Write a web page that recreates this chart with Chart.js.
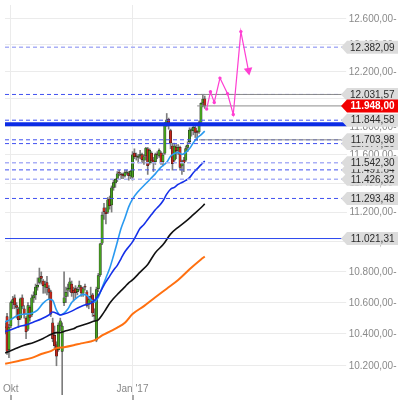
<!DOCTYPE html>
<html><head><meta charset="utf-8">
<script src="https://cdn.jsdelivr.net/npm/chart.js@4/dist/chart.umd.min.js"></script>
<style>html,body{margin:0;padding:0;background:#fff;overflow:hidden}canvas{display:block}</style>
</head><body>
<canvas id="c" width="398" height="400"></canvas>
<script>
// ---- trading days (x categories) ----
const dates = [
 '2016-09-28','2016-09-29','2016-09-30',
 '2016-10-03','2016-10-04','2016-10-05','2016-10-06','2016-10-07','2016-10-10','2016-10-11','2016-10-12','2016-10-13','2016-10-14',
 '2016-10-17','2016-10-18','2016-10-19','2016-10-20','2016-10-21','2016-10-24','2016-10-25','2016-10-26','2016-10-27','2016-10-28','2016-10-31',
 '2016-11-01','2016-11-02','2016-11-03','2016-11-04','2016-11-07','2016-11-08','2016-11-09','2016-11-10','2016-11-11','2016-11-14','2016-11-15',
 '2016-11-16','2016-11-17','2016-11-18','2016-11-21','2016-11-22','2016-11-23','2016-11-24','2016-11-25','2016-11-28','2016-11-29','2016-11-30',
 '2016-12-01','2016-12-02','2016-12-05','2016-12-06','2016-12-07','2016-12-08','2016-12-09','2016-12-12','2016-12-13','2016-12-14','2016-12-15',
 '2016-12-16','2016-12-19','2016-12-20','2016-12-21','2016-12-22','2016-12-23','2016-12-27','2016-12-28','2016-12-29','2016-12-30',
 '2017-01-02','2017-01-03','2017-01-04','2017-01-05','2017-01-06','2017-01-09','2017-01-10','2017-01-11','2017-01-12','2017-01-13',
 '2017-01-16','2017-01-17','2017-01-18','2017-01-19','2017-01-20','2017-01-23','2017-01-24','2017-01-25','2017-01-26','2017-01-27','2017-01-30','2017-01-31',
 '2017-02-01','2017-02-02','2017-02-03','2017-02-06','2017-02-07','2017-02-08','2017-02-09','2017-02-10','2017-02-13','2017-02-14','2017-02-15',
 '2017-02-16','2017-02-17','2017-02-20','2017-02-21','2017-02-22','2017-02-23'
];
const open = [10440,10510,10300,10450,10600,10630,10580,10560,10500,10630,10560,10500,10430,10570,10520,10630,10650,10700,10730,10770,10740,10700,10730,10690,
 10670,10470,10390,10330,10300,10450,10290,10600,10640,10680,10690,10720,10680,10690,10670,10700,10700,10660,10700,10670,10590,10630,
 10650,10520,10360,10690,10780,10990,11230,11200,11200,11290,11250,11370,11400,11430,11475,11460,11460,11450,11470,11470,11450,
 11440,11610,11590,11580,11590,11600,11560,11590,11640,11540,11610,11560,11550,11600,11590,11610,11550,11610,11820,11850,11770,11660,
 11560,11650,11630,11650,11520,11560,11560,11650,11690,11770,11770,11790,11760,11760,11830,11970,12000];
const high = [10470,10530,10460,10610,10640,10650,10600,10570,10630,10650,10580,10510,10600,10580,10650,10670,10720,10760,10825,10800,10750,10740,10770,10710,
 10680,10500,10450,10350,10470,10500,10470,10800,10700,10720,10760,10740,10700,10710,10700,10740,10710,10700,10720,10680,10640,10700,
 10660,10560,10700,10790,10990,11200,11260,11230,11300,11310,11380,11420,11430,11480,11490,11470,11470,11490,11490,11480,11490,
 11620,11640,11610,11600,11630,11610,11600,11650,11650,11640,11620,11580,11610,11620,11640,11620,11610,11830,11893,11860,11780,11680,
 11680,11670,11670,11660,11560,11580,11660,11690,11790,11790,11810,11800,11770,11840,11970,12031.57,12020];
// the 9 Nov 2016 low wick runs below the visible range
const low = [10400,10270,10250,10440,10560,10560,10500,10440,10490,10560,10500,10370,10420,10480,10510,10600,10620,10680,10720,10720,10660,10660,10650,10620,
 10510,10350,10310,10200,10290,10420,9800,10580,10600,10640,10670,10640,10610,10630,10650,10680,10640,10640,10680,10570,10560,10600,
 10510,10480,10350,10670,10770,10980,11150,11120,11190,11220,11200,11350,11370,11410,11450,11430,11430,11440,11460,11420,11430,
 11420,11570,11560,11540,11570,11540,11530,11560,11460,11530,11540,11480,11530,11570,11580,11530,11520,11600,11800,11780,11640,11490,
 11550,11570,11600,11490,11460,11480,11550,11620,11680,11730,11740,11720,11700,11750,11820,11940,11930];
const close = [10438,10290,10440,10600,10619,10585,10568,10490,10624,10577,10523,10414,10580,10504,10631,10645,10701,10711,10761,10757,10710,10717,10696,10665,
 10526,10370,10325,10259,10456,10482,10450,10630,10667,10693,10735,10664,10663,10664,10685,10714,10662,10689,10699,10582,10620,10640,
 10534,10513,10684,10775,10986,11180,11203,11190,11284,11244,11366,11404,11426,11464,11468,11456,11450,11472,11475,11451,11481,
 11598,11584,11584,11585,11599,11563,11583,11646,11521,11629,11555,11540,11599,11598,11630,11545,11595,11806,11848,11814,11681,11535,
 11659,11627,11651,11509,11549,11543,11642,11666,11774,11771,11794,11757,11757,11828,11967,11998,11948];

// ---- axis ticks ----
const xTickDates = ['2016-10-03', '2017-01-02'];
const xTickLabels = ['Okt', "Jan '17"];
const yTickValues = [10200,10400,10600,10800,11000,11200,11400,11600,11800,12000,12200,12400,12600];

// ---- moving averages (day position, value) ----
const maFastDays = [0,3,7,11,14,17,20,23,25,27,29,31,33,35,38,41,43,45,47,49,51,53,55,57,59,61,63,65,67,70,73,76,79,82,85,87,89,91,93,95,97,99,101,103,105];
const maFastValues = [10476,10492,10520,10526,10532,10551,10596,10621,10614,10551,10520,10532,10558,10600,10634,10653,10646,10621,10602,10634,10697,10760,10823,10907,10998,11090,11160,11236,11289,11342,11383,11423,11464,11511,11545,11587,11607,11614,11600,11614,11642,11683,11718,11739,11766];
const maMidDays = [0,3,7,11,15,19,23,25,27,29,31,35,39,43,45,47,49,51,53,55,57,59,61,63,65,67,69,71,73,75,77,79,81,83,85,87,89,91,93,95,97,99,101,103,105];
const maMidValues = [10414,10426,10445,10457,10476,10495,10520,10539,10532,10520,10526,10545,10570,10589,10595,10614,10646,10690,10734,10772,10811,10843,10888,10933,10966,10999,11044,11090,11116,11150,11183,11216,11243,11276,11323,11357,11370,11391,11404,11418,11438,11472,11499,11527,11554];
const maSlowDays = [0,5,10,15,20,24,27,29,32,36,38,43,47,49,51,53,55,57,59,61,63,65,67,71,75,79,83,87,91,95,99,103,105];
const maSlowValues = [10279,10304,10328,10346,10371,10396,10408,10408,10420,10433,10445,10464,10482,10489,10520,10557,10595,10626,10652,10677,10702,10728,10747,10798,10849,10927,10979,11051,11097,11137,11183,11230,11256];
const maLongDays = [0,7,14,19,24,27,31,36,40,45,48,51,55,59,63,67,73,79,85,91,97,103,105];
const maLongValues = [10212,10230,10249,10273,10291,10310,10316,10328,10340,10352,10365,10390,10414,10439,10470,10526,10577,10634,10690,10747,10817,10882,10901];

// ---- horizontal levels ----
const softLevels = [12382.09, 11542.30, 11426.32];
const hardLevels = [12031.57, 11844.58, 11703.98, 11677.16, 11491.64, 11293.48];
const majorLevel = [11815];
const keyLevel = [11021.31];
const recentLevels = [12031.57, 11948.00, 11703.98];
const recentLevelStart = ['2017-02-17', '2017-02-17', '2017-02-20'];
const calloutValues = [11677.16, 11491.64, 12382.09, 12031.57, 11844.58, 11703.98, 11542.30, 11426.32, 11293.48, 11021.31];
const lastPrice = 11948.00;

// ---- projection ----
const projectionDays = [106, 108, 110, 113, 117, 120, 124, 128];
const projectionValues = [11925, 12051, 11973, 12152, 12037, 11886, 12501, 12208];

// ================= drawing =================
const X_MIN = -0.08, X_MAX = 204.03;
const Y_MIN = 10020, Y_MAX = 12705;
const GREEN = '#46a11e', RED = '#c3261b';
const FONT = '10px "Liberation Sans", Arial, sans-serif';
Chart.defaults.font.family = '"Liberation Sans", Arial, sans-serif';

const fmt = v => { const s = v.toFixed(2).split('.'); return s[0].replace(/\B(?=(\d{3})+(?!\d))/g, '.') + ',' + s[1]; };

const wickData = dates.map((d, i) => ({x: i, y: [low[i], high[i]]}));
const bodyData = dates.map((d, i) => ({x: i, y: [open[i], close[i]]}));
const bodyColors = dates.map((d, i) => close[i] >= open[i] ? GREEN : RED);

const maLine = (days, vals, color, width) => ({
  type: 'line', data: days.map((d, k) => ({x: d, y: vals[k]})),
  borderColor: color, borderWidth: width, pointRadius: 0, cubicInterpolationMode: 'monotone', fill: false, order: 30
});
const hLine = (v, from, color, width, dash, order) => ({
  type: 'line', data: [{x: from, y: v}, {x: X_MAX, y: v}],
  borderColor: color, borderWidth: width, borderDash: dash, pointRadius: 0, tension: 0, fill: false, order
});

const datasets = [
  {type: 'bar', data: wickData, backgroundColor: '#7d7d7d', barThickness: 1, grouped: false, order: 50},
  {type: 'bar', data: bodyData, backgroundColor: bodyColors, borderColor: '#1e1e1e', borderWidth: 0.5,
   borderSkipped: false, barThickness: 2.4, minBarLength: 1, grouped: false, order: 40},
  maLine(maLongDays, maLongValues, '#ff7010', 2),
  maLine(maSlowDays, maSlowValues, '#111111', 1.6),
  maLine(maMidDays, maMidValues, '#1530e8', 1.6),
  maLine(maFastDays, maFastValues, '#2a9af0', 1.6),
  ...softLevels.map(v => hLine(v, X_MIN, '#aab0f6', 1.5, [4, 3], 20)),
  ...hardLevels.map(v => hLine(v, X_MIN, '#4051f0', 1, [4, 3], 20)),
  ...majorLevel.map(v => hLine(v, X_MIN, '#0b2be6', 4, [], 19)),
  ...keyLevel.map(v => hLine(v, X_MIN, '#2a46ee', 1, [], 19)),
  ...recentLevels.map((v, k) => hLine(v, dates.indexOf(recentLevelStart[k]), '#8c8c8c', 1, [], 15)),
  {type: 'line', data: projectionDays.map((d, k) => ({x: d, y: projectionValues[k]})),
   borderColor: '#ff3fd2', borderWidth: 1.2, tension: 0, fill: false, order: 5,
   pointBackgroundColor: '#ff3fd2', pointBorderColor: '#ff3fd2', pointBorderWidth: 0,
   pointRadius: projectionDays.map((d, k) => k === projectionDays.length - 1 ? 5 : 1.7),
   pointStyle: projectionDays.map((d, k) => k === projectionDays.length - 1 ? 'triangle' : 'circle'),
   pointRotation: projectionDays.map((d, k) => k === projectionDays.length - 1 ? 170 : 0)}
];

const overlay = {
  id: 'overlay',
  afterDraw(chart) {
    const {ctx, scales: {x, y}} = chart;
    const W = chart.width;
    ctx.save();
    ctx.font = FONT;
    ctx.textBaseline = 'middle';
    ctx.textAlign = 'right';
    for (const v of yTickValues) {
      const py = y.getPixelForValue(v);
      const t = fmt(v) + '-';
      const w = ctx.measureText(t).width;
      ctx.fillStyle = '#fff';
      ctx.fillRect(W - 4 - w, py - 6, w + 4, 12);
      ctx.fillStyle = '#8a8a8a';
      ctx.fillText(t, W - 1.5, py + 0.5);
    }
    const callout = (v, fill, color, bold) => {
      const py = y.getPixelForValue(v);
      const tip = 341, bx = 347, h = 6.5;
      ctx.beginPath();
      ctx.moveTo(tip, py); ctx.lineTo(bx, py - h); ctx.lineTo(W, py - h);
      ctx.lineTo(W, py + h); ctx.lineTo(bx, py + h); ctx.closePath();
      ctx.fillStyle = fill; ctx.fill();
      ctx.font = (bold ? 'bold ' : '') + FONT;
      ctx.fillStyle = color;
      ctx.fillText(fmt(v), W - 3.5, py + 0.5);
    };
    calloutValues.forEach(v => callout(v, '#dcdcdc', '#2b2b2b', false));
    callout(lastPrice, '#f20000', '#ffffff', true);
    ctx.font = FONT; ctx.textAlign = 'center';
    xTickDates.forEach((d, k) => {
      const px = x.getPixelForValue(dates.indexOf(d));
      ctx.fillStyle = '#888';
      ctx.fillText(xTickLabels[k], px, 389);
      ctx.fillStyle = '#555';
      ctx.fillRect(Math.round(px) - 0.5, 395, 1, 5);
    });
    ctx.restore();
  }
};

new Chart(document.getElementById('c'), {
  type: 'bar',
  data: {datasets},
  options: {
    responsive: false, animation: false, devicePixelRatio: 1,
    layout: {padding: 0},
    plugins: {legend: {display: false}, tooltip: {enabled: false}},
    scales: {
      x: {type: 'linear', min: X_MIN, max: X_MAX, offset: false,
          grid: {color: '#ebebeb', drawTicks: false, offset: false}, border: {display: false},
          ticks: {display: false},
          afterBuildTicks: s => { s.ticks = xTickDates.map(d => ({value: dates.indexOf(d)})); },
          afterFit: s => { s.height = 0; }},
      y: {type: 'logarithmic', position: 'right', min: Y_MIN, max: Y_MAX,
          grid: {color: '#ebebeb', drawTicks: false}, border: {display: false},
          ticks: {display: false},
          afterBuildTicks: s => { s.ticks = yTickValues.map(v => ({value: v})); },
          afterFit: s => { s.width = 0; }}
    }
  },
  plugins: [overlay]
});
</script>
</body></html>
